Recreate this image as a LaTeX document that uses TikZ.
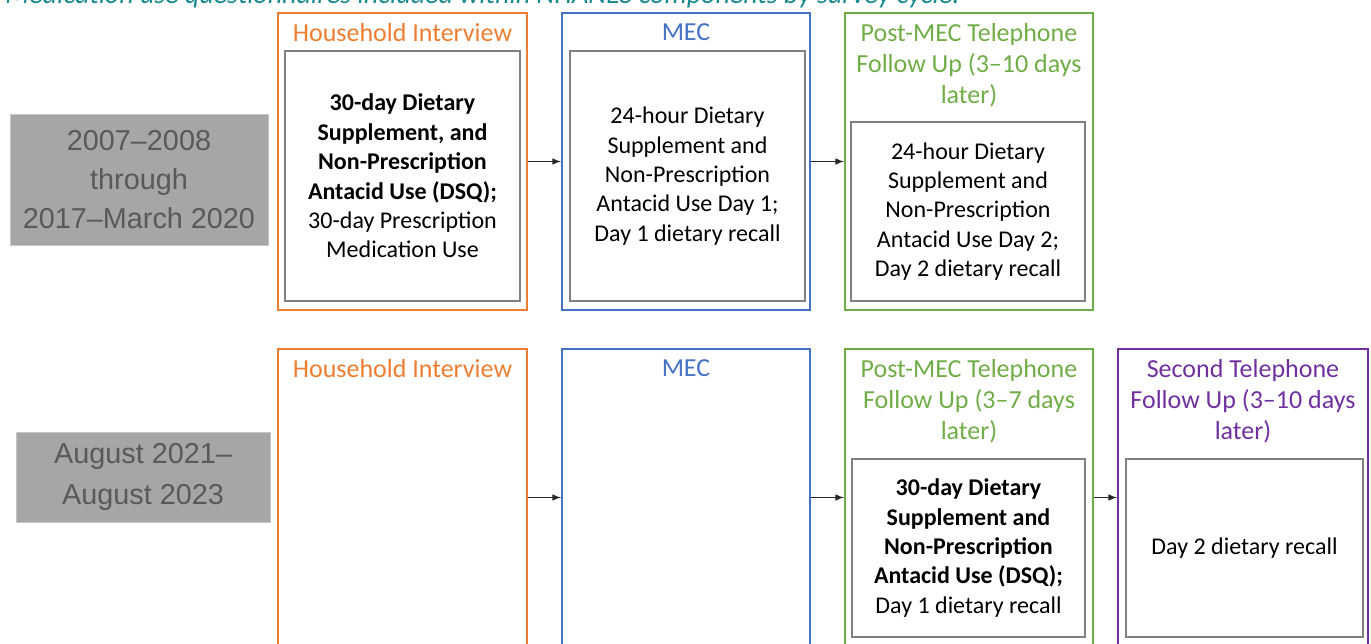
\documentclass[tikz,border=0pt]{standalone}
\usepackage{fontspec}
\setmainfont{Carlito}
\newfontfamily\arialfont{Liberation Sans}
\definecolor{hhorange}{HTML}{ED7D31}
\definecolor{mecblue}{HTML}{4472C4}
\definecolor{telgreen}{HTML}{70AD47}
\definecolor{secpurple}{HTML}{7030A0}
\definecolor{cyclegray}{HTML}{A6A6A6}
\definecolor{cycletext}{HTML}{595959}
\definecolor{captionteal}{HTML}{1A8A91}
\begin{document}
\begin{tikzpicture}[x=0.5pt, y=-0.5pt,
    cyclebox/.style={rectangle, fill=cyclegray, draw=gray!45, line width=0.5pt, text=cycletext, align=center, font=\arialfont\fontsize{14.4}{19.5}\selectfont},
    stagebox/.style={rectangle, draw, line width=1pt, minimum width=124pt, minimum height=148.5pt},
    stagetitle/.style={anchor=north, align=center, inner sep=1pt, yshift=-4.5pt, font=\fontsize{13}{15.6}\selectfont},
    itembox/.style={rectangle, draw=black!50, line width=0.7pt, fill=white, align=center, text=black, font=\fontsize{12}{14.7}\selectfont},
    flowarrow/.style={-latex, draw=black!85, line width=0.5pt}]
      \useasboundingbox (0,0) rectangle (1371,643);
      \node[anchor=base west, inner sep=0pt, text=captionteal, font=\itshape\fontsize{14}{16}\selectfont] (caption) at (5,3.5) {Medication use questionnaires included within NHANES components by survey cycle.};
      \node[cyclebox, minimum width=129pt, minimum height=65.5pt] (c1) at (139,179.5) {2007–2008\\through\\2017–March 2020};
      \node[cyclebox, minimum width=127pt, minimum height=45pt, font=\arialfont\fontsize{14.4}{20.5}\selectfont] (c2) at (143,477) {August 2021–\\August 2023};
      \node[stagebox, draw=hhorange, minimum width=124.5pt] (hh1) at (402.5,161.5) {};
      \node[stagebox, draw=mecblue] (mec1) at (686,161.5) {};
      \node[stagebox, draw=telgreen] (tel1) at (969,161.5) {};
      \node[stagebox, draw=hhorange, minimum width=124.5pt] (hh2) at (402.5,497.5) {};
      \node[stagebox, draw=mecblue] (mec2) at (686,497.5) {};
      \node[stagebox, draw=telgreen] (tel2) at (969,497.5) {};
      \node[stagebox, draw=secpurple, minimum width=125pt] (sec2) at (1243,497.5) {};
      \node[stagetitle, text=hhorange] (hh1t) at (hh1.north) {Household Interview};
      \node[stagetitle, text=mecblue] (mec1t) at (mec1.north) {MEC};
      \node[stagetitle, text=telgreen] (tel1t) at (tel1.north) {Post-MEC Telephone\\Follow Up (3–10 days\\later)};
      \node[stagetitle, text=hhorange] (hh2t) at (hh2.north) {Household Interview};
      \node[stagetitle, text=mecblue] (mec2t) at (mec2.north) {MEC};
      \node[stagetitle, text=telgreen] (tel2t) at (tel2.north) {Post-MEC Telephone\\Follow Up (3–7 days\\later)};
      \node[stagetitle, text=secpurple] (sec2t) at (sec2.north) {Second Telephone\\Follow Up (3–10 days\\later)};
      \node[itembox, minimum width=117.5pt, minimum height=125pt] (hh1i) at (402.5,176) {\textbf{30-day Dietary}\\\textbf{Supplement, and}\\\textbf{Non-Prescription}\\\textbf{Antacid Use (DSQ);}\\30-day Prescription\\Medication Use};
      \node[itembox, minimum width=117.5pt, minimum height=125pt] (mec1i) at (687.5,176) {24-hour Dietary\\Supplement and\\Non-Prescription\\Antacid Use Day 1;\\Day 1 dietary recall};
      \node[itembox, minimum width=117pt, minimum height=89.5pt] (tel1i) at (968,211.5) {24-hour Dietary\\Supplement and\\Non-Prescription\\Antacid Use Day 2;\\Day 2 dietary recall};
      \node[itembox, minimum width=116.5pt, minimum height=89pt] (tel2i) at (968.5,548) {\textbf{30-day Dietary}\\\textbf{Supplement and}\\\textbf{Non-Prescription}\\\textbf{Antacid Use (DSQ);}\\Day 1 dietary recall};
      \node[itembox, minimum width=118.5pt, minimum height=89pt] (sec2i) at (1244.5,548) {Day 2 dietary recall};
      \foreach \source/\dest in {hh1/mec1, mec1/tel1, hh2/mec2, mec2/tel2, tel2/sec2}
        \path (\source) edge[flowarrow] (\dest);
    \end{tikzpicture}
\end{document}
